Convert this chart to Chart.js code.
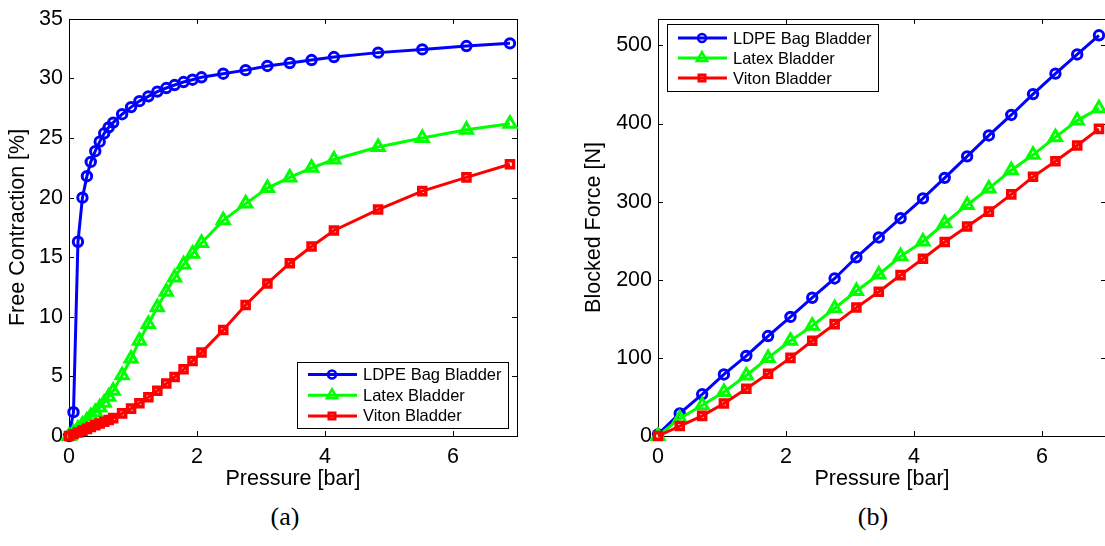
<!DOCTYPE html>
<html>
<head>
<meta charset="utf-8">
<script src="https://cdn.jsdelivr.net/npm/chart.js@4.4.1/dist/chart.umd.min.js"></script>
<style>
  html, body { margin: 0; padding: 0; background: #fff; overflow: hidden; }
  body { width: 1105px; height: 546px; position: relative; }
  canvas { position: absolute; top: 0; }
  #freeChart { left: 0; }
  #forceChart { left: 570px; }
  .cap { position: absolute; top: 502px; width: 60px; text-align: center;
         font-family: "Liberation Serif", "DejaVu Serif", serif; font-size: 26px; color: #000; }
</style>
</head>
<body>
<canvas id="freeChart" width="540" height="500"></canvas>
<canvas id="forceChart" width="560" height="500"></canvas>
<div class="cap" style="left:255px">(a)</div>
<div class="cap" style="left:843px">(b)</div>
<script>
// (a) free contraction vs pressure
const pressureFree = [0, 0.07, 0.14, 0.21, 0.28, 0.34, 0.41, 0.48, 0.55, 0.62, 0.69,
  0.83, 0.97, 1.10, 1.24, 1.38, 1.52, 1.65, 1.79, 1.93, 2.07,
  2.41, 2.76, 3.10, 3.45, 3.79, 4.14, 4.83, 5.52, 6.21, 6.89];
const ldpeFree = [0, 2.0, 16.3, 20.0, 21.8, 23.0, 23.9, 24.7, 25.4, 25.9, 26.3,
  27.0, 27.6, 28.1, 28.5, 28.9, 29.2, 29.45, 29.7, 29.9, 30.1,
  30.4, 30.7, 31.05, 31.3, 31.55, 31.8, 32.17, 32.44, 32.72, 32.95];
const latexFree = [0, 0.3, 0.6, 0.95, 1.3, 1.65, 2.0, 2.4, 2.8, 3.3, 3.8,
  5.1, 6.5, 8.0, 9.4, 10.8, 12.1, 13.3, 14.4, 15.3, 16.2,
  18.1, 19.5, 20.8, 21.7, 22.5, 23.2, 24.25, 25.0, 25.7, 26.2];
const vitonFree = [0, 0.15, 0.3, 0.45, 0.6, 0.75, 0.9, 1.05, 1.2, 1.35, 1.5,
  1.9, 2.3, 2.75, 3.25, 3.8, 4.4, 4.95, 5.6, 6.3, 7.0,
  8.9, 11.0, 12.8, 14.5, 15.9, 17.25, 19.0, 20.55, 21.7, 22.8];

// (b) blocked force vs pressure
const pressureForce = [0, 0.34, 0.69, 1.03, 1.38, 1.72, 2.07, 2.41, 2.76, 3.10, 3.45,
  3.79, 4.14, 4.48, 4.83, 5.17, 5.52, 5.86, 6.21, 6.55, 6.89];
const ldpeForce = [2, 28.9, 53.4, 78.8, 102.6, 128, 152.5, 177, 201.7, 228.8, 254.2,
  278.8, 304.2, 330.5, 358, 384.8, 411, 437.7, 464, 488.5, 513];
const latexForce = [0, 22.5, 39.4, 56.3, 77.5, 100, 122, 141, 163.6, 185.6, 206.8,
  230, 249, 272.4, 295.8, 317, 340.3, 360, 382.6, 403.8, 419.5];
const vitonForce = [0, 12.7, 25.8, 41.5, 60.6, 79.7, 100, 122, 143.2, 164.4, 184.7,
  206, 227, 248.3, 268.2, 287.3, 309.3, 331.8, 351.7, 372, 393.2];

const seriesNames = ['LDPE Bag Bladder', 'Latex Bladder', 'Viton Bladder'];
const xTicks = [0, 2, 4, 6];
const freeTicks = [0, 5, 10, 15, 20, 25, 30, 35];
const forceTicks = [0, 100, 200, 300, 400, 500];

const FONT = '"Liberation Sans", Arial, Helvetica, sans-serif';
const styles = [
  { color: '#0000ff', marker: 'circle', radius: 4.7, width: 3 },
  { color: '#00ff00', marker: 'triangle', radius: 7, width: 3 },
  { color: '#ff0000', marker: 'rect', radius: 5, width: 3.5 }
];

function drawMarker(ctx, kind, x, y, r) {
  ctx.beginPath();
  if (kind === 'circle') {
    ctx.arc(x, y, r, 0, Math.PI * 2);
  } else if (kind === 'triangle') {
    for (let k = 0; k < 3; k++) {
      const a = -Math.PI / 2 + k * 2 * Math.PI / 3;
      const px = x + r * Math.cos(a), py = y + r * Math.sin(a);
      k ? ctx.lineTo(px, py) : ctx.moveTo(px, py);
    }
    ctx.closePath();
  } else {
    const s = r * Math.SQRT1_2;
    ctx.rect(x - s, y - s, 2 * s, 2 * s);
  }
  ctx.stroke();
}

// matlab style box with inward ticks on all four sides
const frame = {
  id: 'frame',
  beforeDatasetsDraw(chart) {
    const { ctx, chartArea: a, scales: { x, y } } = chart;
    ctx.save();
    ctx.strokeStyle = '#000';
    ctx.lineWidth = 1;
    ctx.strokeRect(Math.round(a.left) + 0.5, Math.round(a.top) + 0.5,
      Math.round(a.width), Math.round(a.height));
    ctx.beginPath();
    x.ticks.forEach(t => {
      const px = Math.round(x.getPixelForValue(t.value)) + 0.5;
      ctx.moveTo(px, a.bottom); ctx.lineTo(px, a.bottom - 5);
      ctx.moveTo(px, a.top); ctx.lineTo(px, a.top + 5);
    });
    y.ticks.forEach(t => {
      const py = Math.round(y.getPixelForValue(t.value)) + 0.5;
      ctx.moveTo(a.left, py); ctx.lineTo(a.left + 5, py);
      ctx.moveTo(a.right, py); ctx.lineTo(a.right - 5, py);
    });
    ctx.stroke();
    ctx.restore();
  }
};

const legendBox = {
  id: 'legendBox',
  afterDatasetsDraw(chart, args, o) {
    const ctx = chart.ctx;
    ctx.save();
    ctx.fillStyle = '#fff';
    ctx.fillRect(o.x, o.y, o.w, o.h);
    ctx.strokeStyle = '#000';
    ctx.lineWidth = 1;
    ctx.strokeRect(o.x + 0.5, o.y + 0.5, o.w, o.h);
    seriesNames.forEach((name, i) => {
      const cy = o.y + o.first + i * o.gap;
      const st = styles[i];
      ctx.strokeStyle = st.color;
      ctx.lineWidth = 3;
      ctx.beginPath();
      ctx.moveTo(o.x + 11, cy); ctx.lineTo(o.x + 60, cy);
      ctx.stroke();
      ctx.lineWidth = st.width - 0.5;
      drawMarker(ctx, st.marker, o.x + 35, cy, st.radius * 0.85);
      ctx.fillStyle = '#000';
      ctx.font = '16.5px ' + FONT;
      ctx.textBaseline = 'middle';
      ctx.fillText(name, o.x + 66, cy + 1);
    });
    ctx.restore();
  }
};

function makeDatasets(xs, series) {
  return series.map((vals, i) => ({
    label: seriesNames[i],
    data: xs.map((p, j) => ({ x: p, y: vals[j] })),
    borderColor: styles[i].color,
    borderWidth: 3,
    pointStyle: styles[i].marker,
    pointRadius: styles[i].radius,
    pointBorderColor: styles[i].color,
    pointBackgroundColor: 'rgba(0,0,0,0)',
    pointBorderWidth: styles[i].width,
    order: 3 - i,
    clip: false,
    tension: 0
  }));
}

function makeChart(id, xs, series, yMax, yTicks, yTitle, yWidth, yTitlePad, padRight, legend) {
  return new Chart(document.getElementById(id), {
    type: 'line',
    data: { datasets: makeDatasets(xs, series) },
    plugins: [frame, legendBox],
    options: {
      responsive: false,
      animation: false,
      layout: { padding: { top: 16, right: padRight, left: 0, bottom: 0 } },
      plugins: { legend: { display: false }, tooltip: { enabled: false }, legendBox: legend },
      scales: {
        x: {
          type: 'linear', min: 0, max: 7,
          afterBuildTicks: s => { s.ticks = xTicks.map(v => ({ value: v })); },
          afterFit: s => { s.height = 64; },
          grid: { display: false, drawTicks: false },
          border: { display: false },
          ticks: { color: '#000', font: { family: FONT, size: 21.5 }, padding: 8, maxRotation: 0 },
          title: { display: true, text: 'Pressure [bar]', color: '#000',
                   font: { family: FONT, size: 21.5 }, padding: { top: 0, bottom: 8 } }
        },
        y: {
          type: 'linear', min: 0, max: yMax,
          afterBuildTicks: s => { s.ticks = yTicks.map(v => ({ value: v })); },
          afterFit: s => { s.width = yWidth; },
          grid: { display: false, drawTicks: false },
          border: { display: false },
          ticks: { color: '#000', font: { family: FONT, size: 21.5 }, padding: 6 },
          title: { display: true, text: yTitle, color: '#000',
                   font: { family: FONT, size: 21.5 }, padding: { top: yTitlePad, bottom: 0 } }
        }
      }
    }
  });
}

makeChart('freeChart', pressureFree, [ldpeFree, latexFree, vitonFree], 35, freeTicks,
  'Free Contraction [%]', 69, 5, 23, { x: 297, y: 362, w: 211, h: 66, first: 12.5, gap: 20.7 });
makeChart('forceChart', pressureForce, [ldpeForce, latexForce, vitonForce], 534, forceTicks,
  'Blocked Force [N]', 88, 11, 24, { x: 97, y: 24, w: 211, h: 67, first: 14, gap: 20 });
</script>
</body>
</html>
